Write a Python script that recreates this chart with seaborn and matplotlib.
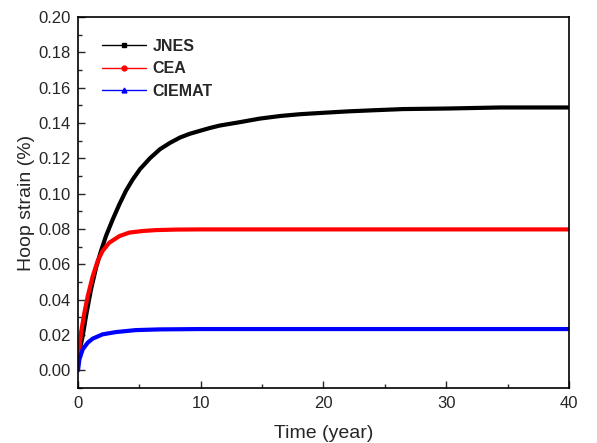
import numpy as np
import pandas as pd
import matplotlib
matplotlib.use("Agg")
import matplotlib.pyplot as plt
from matplotlib.lines import Line2D
from matplotlib.ticker import MultipleLocator
import seaborn as sns

# Data
jnes_t = [0, 0.38, 0.65, 1.06, 1.47, 1.87, 2.28, 2.83, 3.37, 3.9, 4.45, 5.05, 5.85, 6.68,
          7.5, 8.31, 9.1, 9.94, 10.8, 11.57, 13.2, 14.8, 16.5, 18.1, 20, 22, 24, 26.5,
          30, 34.4, 37, 40]
jnes_v = [0.007, 0.0194, 0.0308, 0.0459, 0.0582, 0.0676, 0.0761, 0.0855, 0.094, 0.1016,
          0.108, 0.1139, 0.1200, 0.1252, 0.1288, 0.1318, 0.1339, 0.1356, 0.1373, 0.1386,
          0.1405, 0.1425, 0.1440, 0.1450, 0.1458, 0.1466, 0.1472, 0.1479, 0.1482, 0.1488,
          0.1488, 0.1488]
cea_t = [0, 0.05, 0.24, 0.52, 0.79, 1.2, 1.6, 2.0, 2.55, 3.37, 4.18, 5.27, 6.35, 8, 10,
         15, 20, 30, 40]
cea_v = [0.006, 0.008, 0.0213, 0.0327, 0.042, 0.0534, 0.0619, 0.0676, 0.0723, 0.076,
         0.078, 0.0789, 0.0794, 0.0797, 0.0798, 0.0798, 0.0798, 0.0798, 0.0798]
ciemat_t = [0, 0.11, 0.38, 0.79, 1.2, 2.0, 3.1, 4.7, 6.6, 10, 20, 40]
ciemat_v = [0.0, 0.0062, 0.0119, 0.0157, 0.018, 0.0204, 0.0217, 0.0228, 0.0232, 0.0234,
            0.0234, 0.0234]

series = ["JNES", "CEA", "CIEMAT"]
colors = {"JNES": "#000000", "CEA": "#ff0000", "CIEMAT": "#0000ff"}
markers = {"JNES": "s", "CEA": "o", "CIEMAT": "^"}

df = pd.concat([
    pd.DataFrame({"t": jnes_t, "v": jnes_v, "s": "JNES"}),
    pd.DataFrame({"t": cea_t, "v": cea_v, "s": "CEA"}),
    pd.DataFrame({"t": ciemat_t, "v": ciemat_v, "s": "CIEMAT"}),
])

sns.set_style("ticks")
plt.rcParams["font.family"] = ["Liberation Sans", "DejaVu Sans"]

fig = plt.figure(figsize=(5.97, 4.43), dpi=100)
ax = fig.add_axes([0.1307, 0.124, 0.8223, 0.8376])

sns.lineplot(data=df, x="t", y="v", hue="s", palette=colors, linewidth=3.0,
             legend=False, ax=ax, sort=True)
for ln in ax.lines:
    ln.set_solid_joinstyle("round")
    ln.set_solid_capstyle("round")

ax.set_xlim(0, 40)
ax.set_ylim(-0.01, 0.20)
yt = np.arange(0, 0.201, 0.02)
ax.set_yticks(yt)
ax.set_yticklabels([f"{v:.2f}" for v in yt])
ax.set_xticks([0, 10, 20, 30, 40])
ax.xaxis.set_minor_locator(MultipleLocator(5))
ax.yaxis.set_minor_locator(MultipleLocator(0.01))
ax.tick_params(which="major", direction="in", length=5, width=1, labelsize=12,
               top=False, right=False)
ax.tick_params(axis="y", which="major", pad=5)
ax.tick_params(axis="x", which="major", pad=6)
ax.tick_params(which="minor", direction="in", length=3, width=1, top=False, right=False)
for sp in ax.spines.values():
    sp.set_visible(True)
    sp.set_linewidth(1.2)
    sp.set_color("black")

ax.set_xlabel("Time (year)", fontsize=14, labelpad=10)
ax.set_ylabel("Hoop strain (%)", fontsize=14, labelpad=3)

handles = [Line2D([0], [0], color=colors[s], lw=1, marker=markers[s], markersize=3.5) for s in series]
leg = ax.legend(handles, series, loc="upper left", bbox_to_anchor=(0.02, 0.98), frameon=False,
                prop={"weight": "bold", "size": 11.5}, handlelength=2.75, handletextpad=0.4,
                labelspacing=0.47)

fig.savefig("out.png", dpi=100)
